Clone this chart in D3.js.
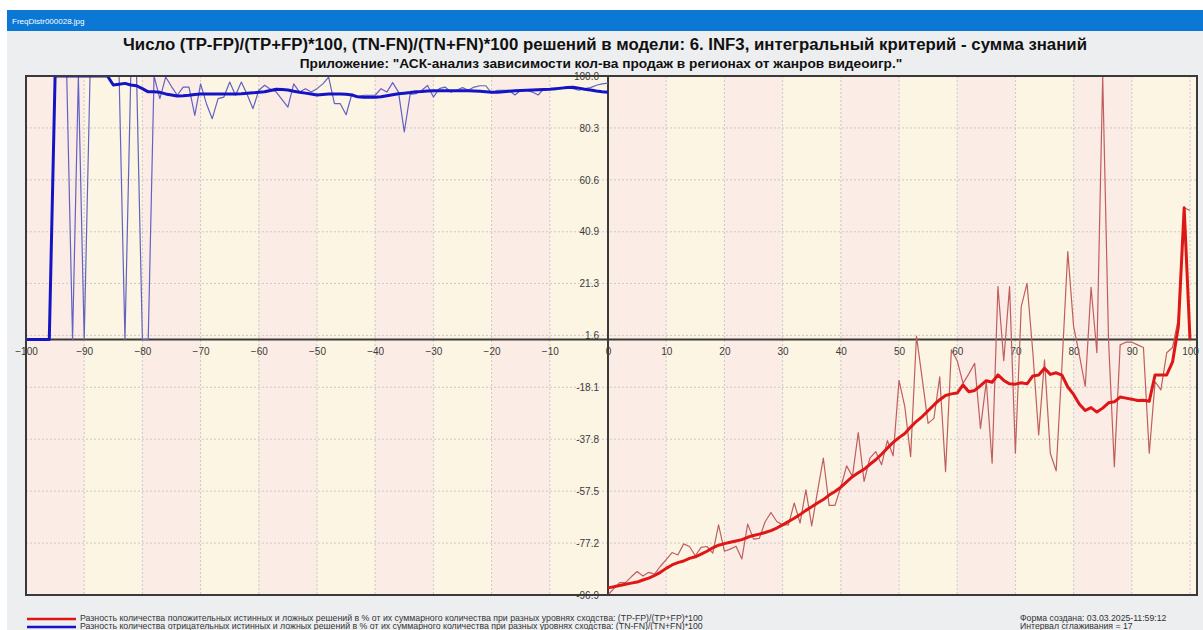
<!DOCTYPE html>
<html>
<head>
<meta charset="utf-8">
<script src="https://cdn.jsdelivr.net/npm/d3@7"></script>
<style>
  html, body { margin: 0; padding: 0; background: #fff; }
  svg { display: block; font-family: "Liberation Sans", Arial, sans-serif; }
</style>
</head>
<body>
<svg id="chart" width="1203" height="630"></svg>
<script>
// Similarity levels, negative half (TN/FN series) and positive half (TP/FP series)
const levelsNeg = [-100,-99,-98,-97,-96,-95,-94,-93,-92,-91,-90,-89,-88,-87,-86,-85,-84,-83,-82,-81,
  -80,-79,-78,-77,-76,-75,-74,-73,-72,-71,-70,-69,-68,-67,-66,-65,-64,-63,-62,-61,
  -60,-59,-58,-57,-56,-55,-54,-53,-52,-51,-50,-49,-48,-47,-46,-45,-44,-43,-42,-41,
  -40,-39,-38,-37,-36,-35,-34,-33,-32,-31,-30,-29,-28,-27,-26,-25,-24,-23,-22,-21,
  -20,-19,-18,-17,-16,-15,-14,-13,-12,-11,-10,-9,-8,-7,-6,-5,-4,-3,-2,-1,0];
const levelsPos = [0,1,2,3,4,5,6,7,8,9,10,11,12,13,14,15,16,17,18,19,
  20,21,22,23,24,25,26,27,28,29,30,31,32,33,34,35,36,37,38,39,
  40,41,42,43,44,45,46,47,48,49,50,51,52,53,54,55,56,57,58,59,
  60,61,62,63,64,65,66,67,68,69,70,71,72,73,74,75,76,77,78,79,
  80,81,82,83,84,85,86,87,88,89,90,91,92,93,94,95,96,97,98,99,100];

// (TN-FN)/(TN+FN)*100 — raw and smoothed
const tnRaw = [0,0,0,0,0, 100,100,100,0,100, 0,100,100,100,100, 100,100,0,100,100,
  0,0,100,91.4,99.6, 96.0,92.7,95.8,95.8,85.1, 97.0,89.5,83.8,91.4,92.0, 97.7,92.7,97.7,93.0,87.6,
  94.6,96.5,95.0,93.9,91.0, 88.2,97.0,93.9,95.2,93.9, 95.2,97.0,99.6,89.5,89.5, 85.3,93.2,92.0,92.7,92.7,
  92.7,95.2,93.9,97.5,93.9, 78.8,93.0,93.3,94.6,96.4, 92.0,95.2,95.8,93.9,94.6, 95.6,94.6,95.8,96.3,96.3,
  93.5,94.6,94.6,94.6,92.8, 94.6,94.6,93.9,92.8,95.2, 95.2,95.2,95.2,95.8,95.2, 94.6,95.2,95.6,96.5,97.0, 97.3];
const tnSmooth = [0,0,0,0,0, 100,100,100,100,100, 100,100,100,100,100, 96.6,96.9,97.2,96.6,96.3,
  95.2,94.0,94.0,93.8,93.2, 92.8,92.4,92.5,92.7,93.0, 93.2,93.2,93.2,93.2,93.2, 93.2,93.2,93.3,93.5,93.6,
  93.8,94.0,94.5,95.0,94.9, 94.7,94.2,93.8,93.5,93.2, 92.8,93.0,93.2,93.2,93.2, 93.1,92.8,92.1,91.9,91.9,
  91.9,92.1,92.5,92.9,93.3, 93.5,93.7,94.0,94.1,94.3, 94.4,94.4,94.4,94.4,94.4, 94.4,94.4,94.3,94.2,94.0,
  93.8,93.8,94.0,94.2,94.4, 94.5,94.6,94.7,94.8,94.9, 95.0,95.2,95.4,95.6,95.7, 95.4,95.0,94.7,94.3,94.0, 93.8];

// (TP-FP)/(TP+FP)*100 — raw and smoothed
const tpRaw = [-96.9,-94.5,-92.2,-92.2,-90.0, -88.0,-89.7,-88.3,-89.0,-86.0,
  -83.5,-80.8,-81.7,-77.5,-78.5, -82.0,-78.8,-78.5,-81.0,-70.3,
  -80.3,-79.5,-78.4,-83.2,-70.0, -75.7,-75.4,-69.1,-65.6,-69.0,
  -70.3,-70.3,-62.0,-69.6,-57.0, -70.7,-57.6,-45.0,-62.9,-62.9,
  -56.0,-47.9,-51.9,-35.3,-53.8, -45.0,-42.5,-47.5,-38.3,-44.1,
  -15.5,-25.4,-44.4,1.3,-15.0, -31.8,-29.9,-14.1,-50.1,-3.9,
  -8.0,-16.6,-13.0,-9.0,-33.7, -15.9,-46.9,20.1,-8.0,20.1,
  -43.1,12.5,21.3,-5.0,-36.2, -7.7,-43.1,-49.8,-10.0,33.4,
  5.0,-6.0,-17.8,19.8,-5.0, 100.0,0.0,-48.2,-2.0,-1.0,
  -1.0,-2.0,-3.0,-43.1,-16.0, -19.1,-5.0,-3.0,8.0,50.0, 49.0];
const tpSmooth = [-94.2,-93.8,-93.3,-92.8,-92.4, -92.0,-91.2,-90.5,-89.5,-88.3,
  -86.8,-85.5,-84.6,-84.0,-83.0, -82.4,-81.4,-80.3,-79.0,-78.0,
  -77.4,-76.9,-76.4,-75.9,-75.0, -74.3,-73.8,-73.2,-72.5,-71.5,
  -70.3,-69.0,-67.8,-66.4,-64.8, -63.4,-62.0,-60.7,-59.0,-57.6,
  -56.0,-54.0,-52.0,-50.5,-49.2, -47.3,-45.6,-43.5,-41.2,-39.0,
  -37.2,-35.6,-33.2,-31.0,-29.2, -27.0,-24.8,-22.8,-21.2,-20.6,
  -20.3,-17.2,-19.8,-19.3,-17.5, -15.6,-16.2,-13.4,-15.5,-16.8,
  -16.9,-16.4,-16.8,-13.8,-13.4, -10.9,-13.2,-12.6,-13.5,-18.0,
  -20.8,-24.5,-26.9,-25.8,-27.5, -26.0,-24.0,-23.6,-21.8,-22.2,
  -22.6,-23.1,-23.0,-23.4,-13.4, -13.4,-13.4,-8.5,5.0,50.0, 0.0];

// Axis ticks
const xTicks = [-100,-90,-80,-70,-60,-50,-40,-30,-20,-10,0,10,20,30,40,50,60,70,80,90,100];
const yTicks = [100.0,80.3,60.6,40.9,21.3,1.6,-18.1,-37.8,-57.5,-77.2,-96.9];
const yTickLabels = ["100.0","80.3","60.6","40.9","21.3","1.6","-18.1","-37.8","-57.5","-77.2","-96.9"];

const titleText = "Число (TP-FP)/(TP+FP)*100, (TN-FN)/(TN+FN)*100 решений в модели: 6. INF3, интегральный критерий - сумма знаний";
const subtitleText = "Приложение: \"АСК-анализ зависимости кол-ва продаж в регионах от жанров видеоигр.\"";
const legendTexts = [
  "Разность количества положительных истинных и ложных решений в % от их суммарного количества при разных уровнях сходства: (TP-FP)/(TP+FP)*100",
  "Разность количества отрицательных истинных и ложных решений в % от их суммарного количества при разных уровнях сходства: (TN-FN)/(TN+FN)*100"
];
const infoTexts = ["Форма создана: 03.03.2025-11:59:12", "Интервал сглаживания = 17"];

const W = 1203, H = 630;
const svg = d3.select("#chart");

// Window background and caption bar
svg.append("rect").attr("width", W).attr("height", H).attr("fill", "#ffffff");
svg.append("rect").attr("x", 7).attr("y", 10).attr("width", W - 7).attr("height", H - 10).attr("fill", "#EDEEF0");
svg.append("rect").attr("x", 7).attr("y", 10).attr("width", W - 7).attr("height", 21).attr("fill", "#0B78D6");
svg.append("text").attr("x", 12).attr("y", 24).attr("fill", "#fff")
  .attr("font-size", 8).text("FreqDistr000028.jpg");

// Titles
svg.append("text").attr("x", 605).attr("y", 50).attr("text-anchor", "middle")
  .attr("font-size", 16.8).attr("font-weight", "bold").attr("fill", "#111").text(titleText);
svg.append("text").attr("x", 601).attr("y", 67.5).attr("text-anchor", "middle")
  .attr("font-size", 13.7).attr("font-weight", "bold").attr("fill", "#111").text(subtitleText);

// Plot area
const frame = { left: 26, right: 1197, top: 76, bottom: 595 };
const x = d3.scaleLinear().domain([-100, 100]).range([26, 1190]);
const y = d3.scaleLinear().domain([-96.9, 100]).range([595, 76]);

// Alternating vertical bands every 10 units
const bandStarts = xTicks.slice(0, -1);
svg.append("g").selectAll("rect").data(bandStarts).join("rect")
  .attr("x", d => x(d))
  .attr("y", frame.top)
  .attr("width", (d, i) => (i === bandStarts.length - 1 ? frame.right : x(d + 10)) - x(d))
  .attr("height", frame.bottom - frame.top)
  .attr("fill", (d, i) => i % 2 === 0 ? "#FBEDE6" : "#FCF5E4");

// Dotted grid
const grid = svg.append("g").attr("stroke", "#CCC9C4").attr("stroke-width", 1).attr("stroke-dasharray", "2,2");
grid.selectAll("line.v").data(xTicks).join("line").attr("class", "v")
  .attr("x1", d => x(d)).attr("x2", d => x(d)).attr("y1", frame.top).attr("y2", frame.bottom);
grid.selectAll("line.h").data(yTicks).join("line").attr("class", "h")
  .attr("x1", frame.left).attr("x2", frame.right).attr("y1", d => y(d)).attr("y2", d => y(d));

// Axis tick labels
const xAxis = svg.append("g").attr("transform", `translate(0,${y(0)})`)
  .call(d3.axisBottom(x).tickValues(xTicks).tickSize(0).tickFormat(d3.format("d")));
xAxis.select(".domain").remove();
xAxis.selectAll("text").attr("y", 8).attr("font-size", 10).attr("fill", "#3a3a3a")
  .attr("font-family", "Liberation Sans, Arial, sans-serif");

const yAxis = svg.append("g").attr("transform", `translate(${x(0)},0)`)
  .call(d3.axisLeft(y).tickValues(yTicks).tickSize(0).tickPadding(9)
    .tickFormat((d, i) => yTickLabels[i]));
yAxis.select(".domain").remove();
yAxis.selectAll("text").attr("font-size", 10).attr("fill", "#3a3a3a")
  .attr("font-family", "Liberation Sans, Arial, sans-serif");

// Zero axes
svg.append("line").attr("x1", frame.left).attr("x2", frame.right)
  .attr("y1", y(0)).attr("y2", y(0)).attr("stroke", "#3a3a3a").attr("stroke-width", 2);
svg.append("line").attr("x1", x(0)).attr("x2", x(0))
  .attr("y1", frame.top).attr("y2", frame.bottom).attr("stroke", "#3a3a3a").attr("stroke-width", 2);

// Data lines
svg.append("clipPath").attr("id", "plotClip").append("rect")
  .attr("x", frame.left).attr("y", frame.top)
  .attr("width", frame.right - frame.left).attr("height", frame.bottom - frame.top);
const lines = svg.append("g").attr("clip-path", "url(#plotClip)").attr("fill", "none")
  .attr("stroke-linejoin", "round");
const line = d3.line().x(d => x(d[0])).y(d => y(d[1]));
const pairs = (xs, ys) => xs.map((v, i) => [v, ys[i]]);

lines.append("path").datum(pairs(levelsNeg, tnRaw)).attr("d", line)
  .attr("stroke", "#6262C2").attr("stroke-width", 1.2);
lines.append("path").datum(pairs(levelsPos, tpRaw)).attr("d", line)
  .attr("stroke", "#C05E5E").attr("stroke-width", 1.2);
lines.append("path").datum(pairs(levelsNeg, tnSmooth)).attr("d", line)
  .attr("stroke", "#1414C4").attr("stroke-width", 3);
lines.append("path").datum(pairs(levelsPos, tpSmooth)).attr("d", line)
  .attr("stroke", "#DE1616").attr("stroke-width", 3);

// Frame
svg.append("rect").attr("x", frame.left).attr("y", frame.top)
  .attr("width", frame.right - frame.left).attr("height", frame.bottom - frame.top)
  .attr("fill", "none").attr("stroke", "#3a3a3a").attr("stroke-width", 2);

// Legend
const legendColors = ["#DE1616", "#1414C4"];
const legendY = [619, 627];
legendTexts.forEach((t, i) => {
  svg.append("line").attr("x1", 27).attr("x2", 76).attr("y1", legendY[i]).attr("y2", legendY[i])
    .attr("stroke", legendColors[i]).attr("stroke-width", 2.5);
  svg.append("text").attr("x", 80).attr("y", legendY[i] + 2).attr("font-size", 8.75)
    .attr("fill", "#333").text(t);
});
infoTexts.forEach((t, i) => {
  svg.append("text").attr("x", 1020).attr("y", legendY[i] + 2).attr("font-size", 8.7)
    .attr("fill", "#333").text(t);
});
</script>
</body>
</html>
